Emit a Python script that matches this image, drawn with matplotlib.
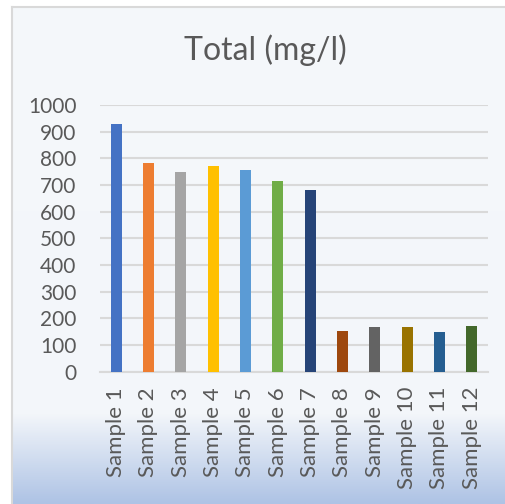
import numpy as np
import matplotlib
matplotlib.use("Agg")
import matplotlib.pyplot as plt
from matplotlib.colors import LinearSegmentedColormap

samples = ["Sample %d" % i for i in range(1, 13)]
totals = [929, 782, 749, 771, 756, 715, 681, 152, 167, 167, 149, 171]
colors = ["#4472C4", "#ED7D31", "#A5A5A5", "#FFC000", "#5B9BD5", "#70AD47",
          "#264478", "#9E480E", "#636363", "#997300", "#255E91", "#43682B"]

plt.rcParams["font.family"] = ["Lato", "DejaVu Sans"]

fig = plt.figure(figsize=(5.05, 5.04), dpi=100)
fig.patch.set_facecolor("white")

# chart area background with gradient at the bottom
bg = fig.add_axes([12 / 505, 0, 1 - 12 / 505, 1 - 7 / 504])
cmap = LinearSegmentedColormap.from_list("bg", [(0, "#F5F8FB"), (0.82, "#F3F6FA"), (1, "#AEC3E5")])
grad = np.linspace(0, 1, 256).reshape(-1, 1)
bg.imshow(grad, aspect="auto", cmap=cmap, extent=[0, 1, 0, 1], origin="upper")
bg.set_xlim(0, 1)
bg.set_ylim(0, 1)
bg.set_xticks([])
bg.set_yticks([])
for side in ["right", "bottom"]:
    bg.spines[side].set_visible(False)
for side in ["left", "top"]:
    bg.spines[side].set_color("#D9D9D9")
    bg.spines[side].set_linewidth(1.5)

ax = fig.add_axes([100 / 505, 132.3 / 504, 388 / 505, 266.7 / 504])
ax.set_facecolor("none")
x = np.arange(len(samples))
ax.bar(x, totals, width=0.34, color=colors, zorder=3)
ax.set_xlim(-0.5, 11.5)
ax.set_ylim(0, 1000)
ax.set_yticks(range(0, 1001, 100))
ax.yaxis.grid(True, color="#D9D9D9", linewidth=1.5, zorder=0)
ax.set_xticks(x)
ax.set_xticklabels(samples, rotation=90, va="top")
ax.tick_params(axis="both", length=0, colors="#595959")
ax.tick_params(axis="y", pad=17, labelsize=15)
ax.tick_params(axis="x", pad=11, labelsize=16)
for side in ["left", "right", "top"]:
    ax.spines[side].set_visible(False)
ax.spines["bottom"].set_color("#D9D9D9")
ax.spines["bottom"].set_linewidth(1.5)

fig.text(265 / 505, 1 - 50 / 504, "Total (mg/l)", ha="center", va="center",
         fontsize=23, color="#595959")

plt.savefig("out.png", dpi=100)
plt.close()
